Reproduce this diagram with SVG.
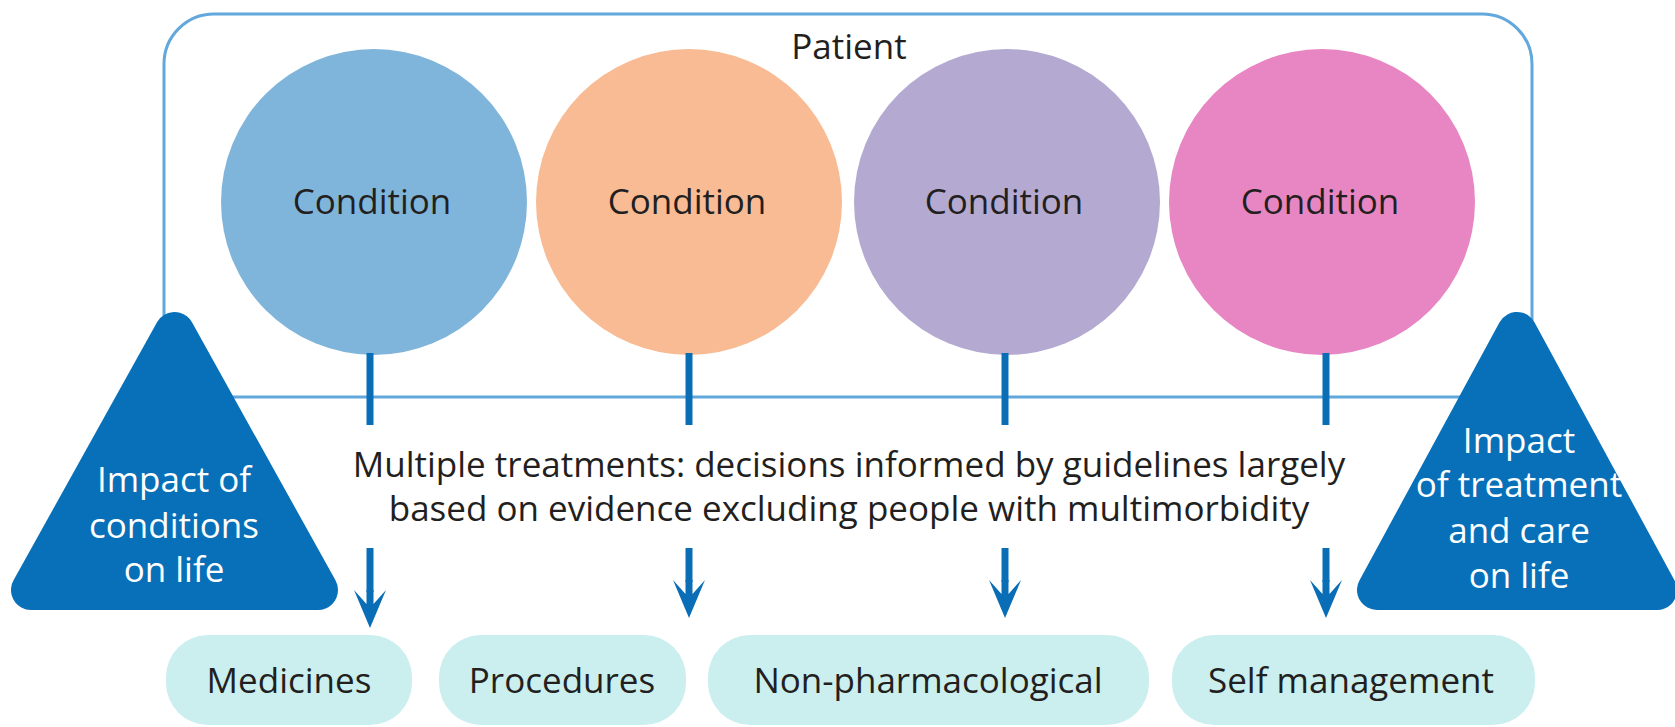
<svg xmlns="http://www.w3.org/2000/svg" width="1675" height="727" viewBox="0 0 1675 727">
<style>
text{font-family:"Open Sans","Noto Sans","Liberation Sans",sans-serif;font-size:35px;fill:#231f20;text-anchor:middle}
.w{fill:#ffffff}
.tri{fill:#0870b8;stroke:#0870b8;stroke-width:40;stroke-linejoin:round}
.pill{fill:#cbefef}
.shaft{stroke:#0a6eb6;stroke-width:7;fill:none}
.head{fill:#0a6eb6}
</style>
<defs>
<path id="ah" d="M-3.5,0 L3.5,0 L3.5,14 L16,0 L0,38 L-16,0 L-3.5,14 Z"/>
</defs>
<g id="patient">
<path d="M164,397 V64 A50,50 0 0 1 214,14 H1482 A50,50 0 0 1 1532,64 V397 Z" fill="none" stroke="#62a8dc" stroke-width="3"/>
<text x="849" y="59">Patient</text>
</g>
<g id="condition1"><circle cx="374" cy="202" r="153" fill="#80b5db"/><text x="372" y="214">Condition</text></g>
<g id="condition2"><circle cx="689" cy="202" r="153" fill="#f8bb94"/><text x="687" y="214">Condition</text></g>
<g id="condition3"><circle cx="1007" cy="202" r="153" fill="#b4a9d1"/><text x="1004" y="214">Condition</text></g>
<g id="condition4"><circle cx="1322" cy="202" r="153" fill="#e886c3"/><text x="1320" y="214">Condition</text></g>
<g id="connectors">
<line class="shaft" x1="370" y1="353" x2="370" y2="425"/>
<line class="shaft" x1="689" y1="353" x2="689" y2="425"/>
<line class="shaft" x1="1005" y1="353" x2="1005" y2="425"/>
<line class="shaft" x1="1326" y1="353" x2="1326" y2="425"/>
<line class="shaft" x1="370" y1="548" x2="370" y2="592"/>
<line class="shaft" x1="689" y1="548" x2="689" y2="582"/>
<line class="shaft" x1="1005" y1="548" x2="1005" y2="582"/>
<line class="shaft" x1="1326" y1="548" x2="1326" y2="582"/>
<use href="#ah" class="head" transform="translate(370,590)"/>
<use href="#ah" class="head" transform="translate(689,580)"/>
<use href="#ah" class="head" transform="translate(1005,580)"/>
<use href="#ah" class="head" transform="translate(1326,580)"/>
</g>
<g id="treatments-label">
<text x="849" y="477">Multiple treatments: decisions informed by guidelines largely</text>
<text x="849" y="521">based on evidence excluding people with multimorbidity</text>
</g>
<g id="impact-conditions">
<polygon class="tri" points="174.5,332 31,590 318,590"/>
<text class="w" x="174" y="492">Impact of</text>
<text class="w" x="174" y="538">conditions</text>
<text class="w" x="174" y="582">on life</text>
</g>
<g id="impact-treatment">
<polygon class="tri" points="1517,332 1377,590 1657,590"/>
<text class="w" x="1519" y="453">Impact</text>
<text class="w" x="1519" y="497">of treatment</text>
<text class="w" x="1519" y="543">and care</text>
<text class="w" x="1519" y="588">on life</text>
</g>
<g id="medicines"><rect class="pill" x="166" y="635" width="246" height="90" rx="42"/><text x="289" y="693">Medicines</text></g>
<g id="procedures"><rect class="pill" x="439" y="635" width="247" height="90" rx="42"/><text x="562" y="693">Procedures</text></g>
<g id="non-pharmacological"><rect class="pill" x="708" y="635" width="441" height="90" rx="42"/><text x="928" y="693">Non-pharmacological</text></g>
<g id="self-management"><rect class="pill" x="1172" y="635" width="363" height="90" rx="42"/><text x="1351" y="693">Self management</text></g>
</svg>
